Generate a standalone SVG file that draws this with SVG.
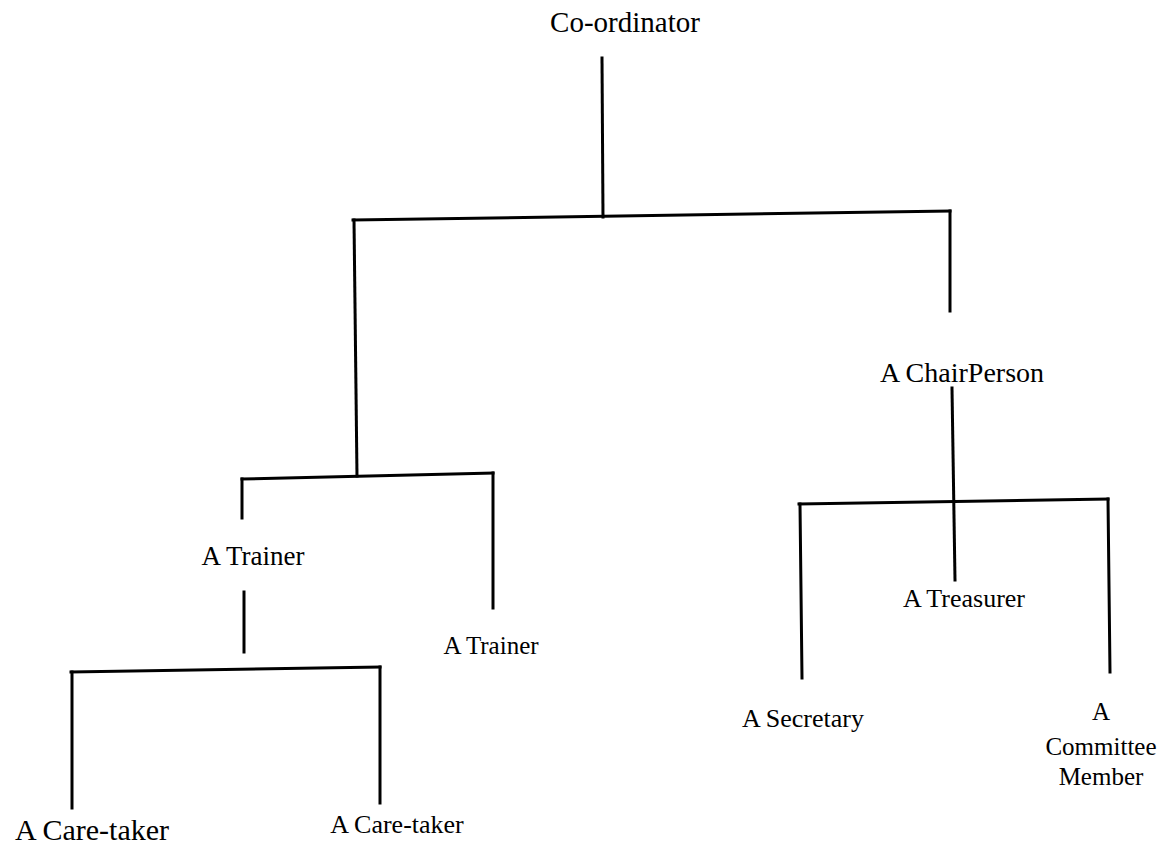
<svg xmlns="http://www.w3.org/2000/svg" width="1162" height="850" viewBox="0 0 1162 850">
<style>
.t{font-family:"Liberation Serif","Times New Roman",serif;fill:#000;text-anchor:middle}
.c line{stroke:#000;stroke-width:3;stroke-linecap:square}
</style>
<rect width="1162" height="850" fill="#fff"/>
<g class="c" id="connectors">
<line x1="602" y1="58" x2="603" y2="217"/>
<line x1="353" y1="220" x2="950" y2="211"/>
<line x1="354" y1="220" x2="357" y2="476"/>
<line x1="950" y1="211" x2="950" y2="311"/>
<line x1="242" y1="479" x2="493" y2="473"/>
<line x1="242" y1="479" x2="242" y2="518"/>
<line x1="493" y1="473" x2="493" y2="608"/>
<line x1="952" y1="388" x2="955" y2="580"/>
<line x1="799" y1="504" x2="1108" y2="499"/>
<line x1="800" y1="504" x2="802" y2="678"/>
<line x1="1108" y1="499" x2="1110" y2="672"/>
<line x1="244" y1="592" x2="244" y2="652"/>
<line x1="71" y1="672" x2="380" y2="667"/>
<line x1="72" y1="672" x2="72" y2="808"/>
<line x1="380" y1="667" x2="380" y2="803"/>
</g>
<g id="coordinator"><text class="t" x="625" y="32" font-size="29">Co-ordinator</text></g>
<g id="chairperson"><text class="t" x="962" y="382" font-size="28">A ChairPerson</text></g>
<g id="treasurer"><text class="t" x="964" y="607" font-size="26">A Treasurer</text></g>
<g id="secretary"><text class="t" x="803" y="727" font-size="26">A Secretary</text></g>
<g id="committee"><text class="t" font-size="25"><tspan x="1101" y="720">A</tspan><tspan x="1101" y="755">Committee</tspan><tspan x="1101" y="785">Member</tspan></text></g>
<g id="trainer1"><text class="t" x="253" y="565" font-size="27">A Trainer</text></g>
<g id="trainer2"><text class="t" x="491" y="654" font-size="25">A Trainer</text></g>
<g id="caretaker1"><text class="t" x="92" y="840" font-size="30">A Care-taker</text></g>
<g id="caretaker2"><text class="t" x="397" y="833" font-size="26">A Care-taker</text></g>
</svg>
